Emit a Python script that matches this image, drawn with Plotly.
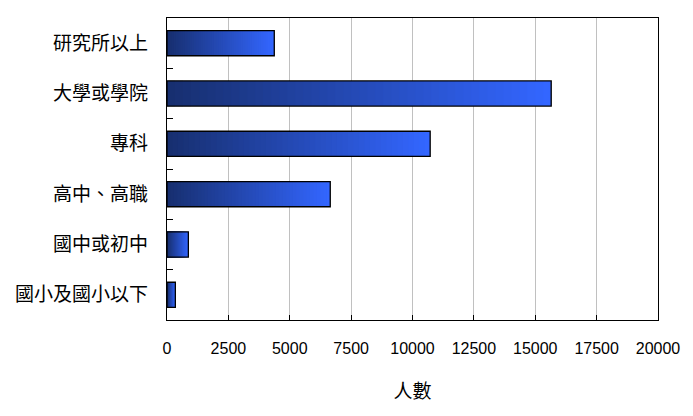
import plotly.graph_objects as go

categories = ["研究所以上", "大學或學院", "專科", "高中、高職", "國中或初中", "國小及國小以下"]
values = [4370, 15650, 10720, 6650, 870, 340]
x_ticks = [0, 2500, 5000, 7500, 10000, 12500, 15000, 17500, 20000]
x_title = "人數"

dark = (23, 47, 112)
bright = (51, 102, 255)
N = 48

fig = go.Figure()
# gradient layers: longest (brightest) drawn first, shorter darker layers on top
for k in range(N, 0, -1):
    t = (k - 1) / (N - 1)
    c = tuple(round(dark[i] + (bright[i] - dark[i]) * t) for i in range(3))
    frac = k / N
    fig.add_trace(go.Bar(
        y=categories, x=[v * frac for v in values], orientation="h",
        width=0.5, marker=dict(color="rgb(%d,%d,%d)" % c, line=dict(width=0)),
        hoverinfo="skip", showlegend=False,
    ))
# outline of each bar
fig.add_trace(go.Bar(
    y=categories, x=values, orientation="h", width=0.5,
    marker=dict(color="rgba(0,0,0,0)", line=dict(color="black", width=1.3)),
    showlegend=False,
))

fig.update_layout(
    width=685, height=408,
    margin=dict(l=159, r=35, t=10, b=96),
    barmode="overlay",
    paper_bgcolor="white", plot_bgcolor="white",
    font=dict(family="Liberation Sans, Arial, sans-serif", color="black"),
)
fig.update_xaxes(
    range=[0, 20000], tickvals=x_ticks, ticktext=[str(v) for v in x_ticks],
    showgrid=True, gridcolor="#c0c0c0", gridwidth=1,
    ticks="inside", ticklen=5, tickcolor="black",
    showline=True, linecolor="black", linewidth=1.3, mirror=True,
    tickfont=dict(size=16, family="Liberation Sans, Arial"),
    ticklabelstandoff=14, zeroline=False,
    title=dict(text=x_title, font=dict(size=19, family="Noto Sans CJK TC"), standoff=28),
    automargin=False,
)
fig.update_yaxes(
    autorange="reversed", tickson="boundaries", ticks="inside", ticklen=6,
    tickcolor="black", showgrid=False,
    showline=True, linecolor="black", linewidth=1.3, mirror=True,
    tickfont=dict(size=19, family="Noto Sans CJK TC"),
    ticklabelstandoff=14, automargin=False,
)

fig.write_html("out.html")
